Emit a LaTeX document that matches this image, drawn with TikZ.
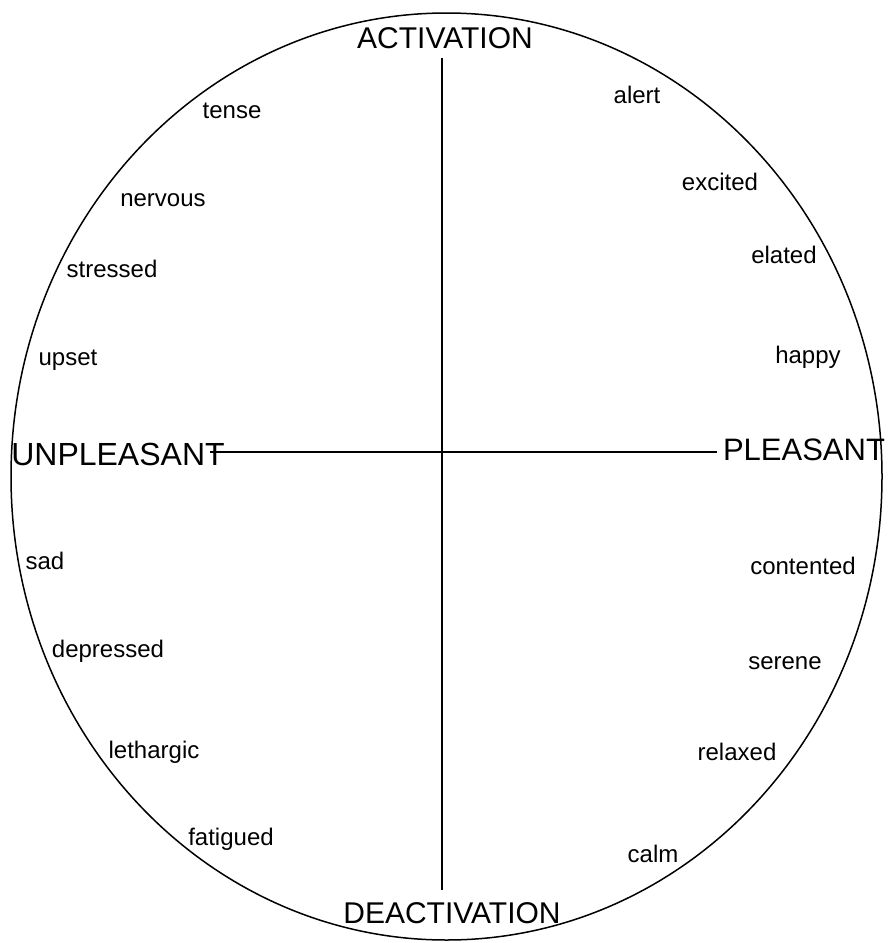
\documentclass[tikz,border=0pt]{standalone}
\usepackage{fontspec}
\setmainfont{Liberation Sans}
\begin{document}
\begin{tikzpicture}[x=1pt,y=-1pt,
  axis/.style={line width=1.4pt},
  big/.style={anchor=base,inner sep=0pt,font=\fontsize{30}{31}\selectfont},
  small/.style={anchor=base,inner sep=0pt,font=\fontsize{24}{25}\selectfont}]
\useasboundingbox (0,0) rectangle (889,943);
\draw[line width=1.5pt] (446.5,476.5) ellipse [x radius=435.5, y radius=463.5];
\coordinate (vt) at (442,58);
\coordinate (vb) at (442,890);
\coordinate (hl) at (210,452);
\coordinate (hr) at (717,452);
\draw[axis] (vt) -- (vb);
\draw[axis] (hl) -- (hr);
\node[big] (act) at (445,48) {ACTIVATION};
\node[big] (deact) at (452,923) {DEACTIVATION};
\node[big,font=\fontsize{32}{33}\selectfont] (unp) at (118,465) {UNPLEASANT};
\node[big,font=\fontsize{31}{32}\selectfont] (ple) at (804,460) {PLEASANT};
\node[small] (tense) at (232,118) {tense};
\node[small] (alert) at (637,103) {alert};
\node[small] (nervous) at (163,206) {nervous};
\node[small] (excited) at (720,190) {excited};
\node[small] (stressed) at (112,277) {stressed};
\node[small] (elated) at (784,263) {elated};
\node[small] (upset) at (68,365) {upset};
\node[small] (happy) at (808,363) {happy};
\node[small] (sad) at (45,569) {sad};
\node[small] (contented) at (803,574) {contented};
\node[small] (depressed) at (108,657) {depressed};
\node[small] (serene) at (785,669) {serene};
\node[small] (lethargic) at (154,758) {lethargic};
\node[small] (relaxed) at (737,760) {relaxed};
\node[small] (fatigued) at (231,845) {fatigued};
\node[small] (calm) at (653,862) {calm};
\end{tikzpicture}
\end{document}
